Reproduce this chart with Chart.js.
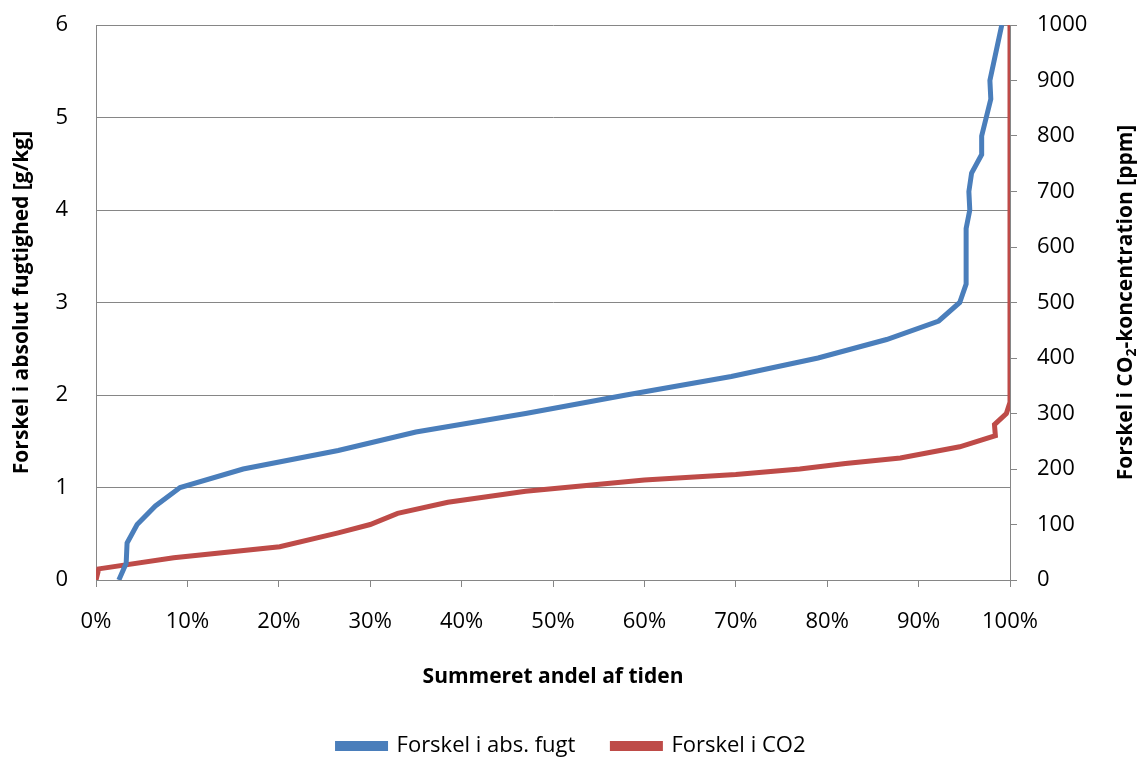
<!DOCTYPE html>
<html>
<head>
<meta charset="utf-8">
<script src="https://cdn.jsdelivr.net/npm/chart.js@4"></script>
<style>
  html, body { margin: 0; padding: 0; background: #fff; }
  #wrap { width: 1143px; height: 760px; position: relative; }
</style>
</head>
<body>
<div id="wrap"><canvas id="chart" width="1143" height="760"></canvas></div>
<script>
// Summeret andel af tiden [%] vs forskel i absolut fugt [g/kg]
const fugtX = [2.5, 3.3, 3.4, 4.5, 6.5, 9.2, 16.1, 26.5, 35, 47, 58, 69.5, 79, 86.5, 92.2, 94.5, 95.2, 95.2, 95.6, 95.5, 95.8, 96.9, 96.9, 97.9, 97.8, 99.1];
const fugtY = [0, 0.18, 0.4, 0.6, 0.8, 1.0, 1.2, 1.4, 1.6, 1.8, 2.0, 2.2, 2.4, 2.6, 2.8, 3.0, 3.2, 3.8, 4.0, 4.2, 4.4, 4.6, 4.8, 5.2, 5.4, 6.0];

// Summeret andel af tiden [%] vs forskel i CO2 [ppm]
const co2X = [0, 0.3, 8.5, 20.1, 26.5, 30, 33, 38.5, 47, 60, 70, 77, 82, 88, 94.5, 98.4, 98.3, 99.6, 100, 100];
const co2Y = [0, 20, 40, 60, 85, 100, 120, 140, 160, 180, 190, 200, 210, 220, 240, 260, 280, 300, 320, 1000];

const seriesNames = ['Forskel i abs. fugt', 'Forskel i CO2'];
const xTitle = 'Summeret andel af tiden';
const yTitle = 'Forskel i absolut fugtighed [g/kg]';

const FONT = '"Open Sans", sans-serif';
const GRID = '#868686';
const TICK_SIZE = 22;
const TITLE_SIZE = 21;

function pts(xs, ys) {
  return xs.map((x, i) => ({ x: x, y: ys[i] }));
}

// keep the plot area where the reference has it
function fixWidth(w) {
  return function (scale) {
    scale.width = w;
    scale.paddingTop = 0;
    scale.paddingBottom = 0;
  };
}

// right axis title with a real subscript, reading bottom-to-top
const rightTitle = {
  id: 'rightTitle',
  afterDraw(chart) {
    const ctx = chart.ctx;
    const area = chart.chartArea;
    const parts = [['Forskel i CO', TITLE_SIZE, 0], ['2', 14, 6], ['-koncentration [ppm]', TITLE_SIZE, 0]];
    ctx.save();
    ctx.fillStyle = '#000';
    ctx.textBaseline = 'middle';
    ctx.textAlign = 'left';
    let total = 0;
    parts.forEach(p => { ctx.font = 'bold ' + p[1] + 'px ' + FONT; total += ctx.measureText(p[0]).width; });
    ctx.translate(1126, (area.top + area.bottom) / 2);
    ctx.rotate(-Math.PI / 2);
    let x = -total / 2;
    parts.forEach(p => {
      ctx.font = 'bold ' + p[1] + 'px ' + FONT;
      ctx.fillText(p[0], x, p[2]);
      x += ctx.measureText(p[0]).width;
    });
    ctx.restore();
  }
};

new Chart(document.getElementById('chart'), {
  type: 'scatter',
  data: {
    datasets: [
      {
        label: seriesNames[0],
        data: pts(fugtX, fugtY),
        showLine: true,
        borderColor: '#4A7EBB',
        backgroundColor: '#4A7EBB',
        borderWidth: 5,
        pointRadius: 0,
        yAxisID: 'y'
      },
      {
        label: seriesNames[1],
        data: pts(co2X, co2Y),
        showLine: true,
        borderColor: '#BE4B48',
        backgroundColor: '#BE4B48',
        borderWidth: 5,
        pointRadius: 0,
        yAxisID: 'y2'
      }
    ]
  },
  options: {
    responsive: false,
    animation: false,
    layout: { padding: { top: 25, bottom: -7 } },
    scales: {
      x: {
        type: 'linear',
        min: 0,
        max: 100,
        ticks: {
          stepSize: 10,
          color: '#000',
          font: { family: FONT, size: TICK_SIZE },
          padding: 22,
          maxRotation: 0,
          callback: v => v + '%'
        },
        grid: { drawOnChartArea: false, drawTicks: true, tickLength: 7, color: GRID },
        border: { color: GRID },
        title: {
          display: true,
          text: xTitle,
          color: '#000',
          font: { family: FONT, size: TITLE_SIZE, weight: 'bold' },
          padding: { top: 0, bottom: 8 }
        },
        afterFit(scale) { scale.height = 118; }
      },
      y: {
        position: 'left',
        min: 0,
        max: 6,
        ticks: {
          stepSize: 1,
          color: '#000',
          font: { family: FONT, size: TICK_SIZE },
          padding: 28
        },
        grid: { color: GRID, drawTicks: false },
        border: { color: GRID },
        title: {
          display: true,
          text: yTitle,
          color: '#000',
          font: { family: FONT, size: TITLE_SIZE, weight: 'bold' },
          padding: { top: 9, bottom: 0 }
        },
        afterFit: fixWidth(96)
      },
      y2: {
        position: 'right',
        min: 0,
        max: 1000,
        ticks: {
          stepSize: 100,
          color: '#000',
          font: { family: FONT, size: TICK_SIZE },
          padding: 20,
          callback: v => String(v)
        },
        grid: { drawOnChartArea: false, drawTicks: true, tickLength: 7, color: GRID },
        border: { color: GRID },
        afterFit: fixWidth(133)
      }
    },
    plugins: {
      legend: {
        position: 'bottom',
        labels: {
          color: '#000',
          font: { family: FONT, size: TICK_SIZE },
          boxWidth: 48,
          boxHeight: 5,
          padding: 37
        }
      },
      tooltip: { enabled: false }
    }
  },
  plugins: [rightTitle]
});
</script>
</body>
</html>
